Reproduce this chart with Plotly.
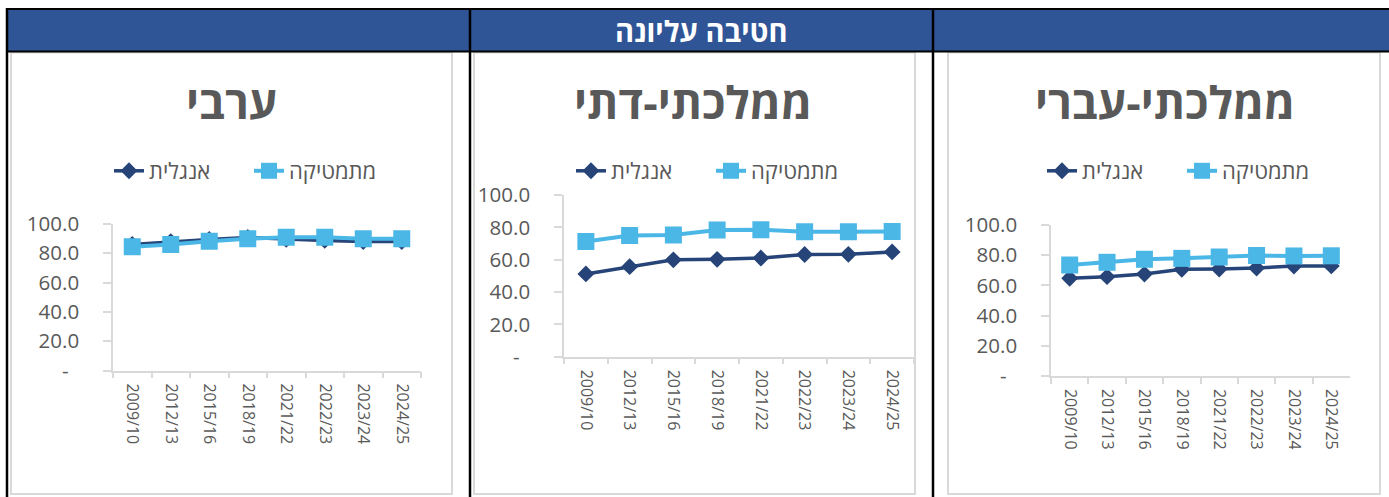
import plotly.graph_objects as go

W, H = 1389, 497

years = ["2009/10", "2012/13", "2015/16", "2018/19", "2021/22", "2022/23", "2023/24", "2024/25"]

arab_english = [86.0, 88.0, 89.5, 90.8, 89.5, 88.8, 88.0, 88.0]
arab_math = [84.5, 86.0, 88.2, 90.0, 90.9, 90.9, 90.0, 90.0]

dati_english = [51.2, 55.7, 59.9, 60.2, 61.0, 63.2, 63.3, 64.8]
dati_math = [71.2, 74.9, 75.3, 78.4, 78.5, 77.3, 77.3, 77.4]

ivri_english = [64.7, 65.8, 67.5, 70.7, 70.9, 71.5, 72.8, 72.9]
ivri_math = [73.5, 75.3, 77.3, 77.9, 78.8, 79.8, 79.5, 79.6]

panel_titles = ["ערבי", "ממלכתי-דתי", "ממלכתי-עברי"]
header_title = "חטיבה עליונה"
name_english = "אנגלית"
name_math = "מתמטיקה"

ytick_vals = [0, 20, 40, 60, 80, 100]
ytick_text = ["-\u00a0\u00a0", "20.0", "40.0", "60.0", "80.0", "100.0"]

FONT = "Open Sans, Liberation Sans, DejaVu Sans, sans-serif"
GRAY = "#595959"
AXIS = "#D9D9D9"
DARK = "#264478"
LIGHT = "#4BB7E6"


def px(x):
    return x / W


def py(y):
    return 1 - y / H


areas = [
    (113, 421, 224, 370.5),
    (564, 914, 195, 356.7),
    (1051, 1350, 225, 376),
]
data = [
    (arab_english, arab_math),
    (dati_english, dati_math),
    (ivri_english, ivri_math),
]
title_x = [231, 693, 1165]
legend_left = [109, 571, 1042]
boxes = [(11, 452), (474, 915), (948, 1380)]

fig = go.Figure()
layout = {}
for i, ((x0, x1, yt, yb), (eng, mat)) in enumerate(zip(areas, data)):
    n = "" if i == 0 else str(i + 1)
    xa, ya = "x" + n, "y" + n
    lg = "legend" + n
    fig.add_trace(go.Scatter(
        x=years, y=eng, name=name_english, mode="lines+markers",
        line=dict(color=DARK, width=3.5),
        marker=dict(symbol="diamond", size=13, color=DARK),
        xaxis=xa, yaxis=ya, legend=lg))
    fig.add_trace(go.Scatter(
        x=years, y=mat, name=name_math, mode="lines+markers",
        line=dict(color=LIGHT, width=4),
        marker=dict(symbol="square", size=17, color=LIGHT),
        xaxis=xa, yaxis=ya, legend=lg))
    layout["xaxis" + n] = dict(
        domain=[px(x0), px(x1)], anchor=ya, type="category",
        range=[-0.5, 7.5], tickson="boundaries", ticks="outside",
        ticklen=6, tickcolor=AXIS, tickwidth=1.5, showline=True,
        linecolor=AXIS, linewidth=1.5, showgrid=False, zeroline=False,
        tickangle=90, ticklabelstandoff=8,
        tickfont=dict(family=FONT, size=16, color=GRAY),
        fixedrange=True)
    layout["yaxis" + n] = dict(
        domain=[py(yb), py(yt)], anchor=xa, range=[0, 100],
        tickvals=ytick_vals, ticktext=ytick_text, ticks="outside",
        ticklen=8, tickcolor=AXIS, tickwidth=1.5, showline=True,
        linecolor=AXIS, linewidth=1.5, showgrid=False, zeroline=False,
        ticklabelstandoff=20,
        tickfont=dict(family=FONT, size=20.5, color=GRAY), fixedrange=True)
    layout[lg] = dict(
        orientation="h", x=px(legend_left[i]), y=py(171), xanchor="left",
        yanchor="middle", font=dict(family=FONT, size=22, color=GRAY),
        bgcolor="rgba(0,0,0,0)", traceorder="normal",
        entrywidth=95, entrywidthmode="pixels")

shapes = []
for (bx0, bx1) in boxes:
    shapes.append(dict(type="rect", xref="paper", yref="paper",
                       x0=px(bx0), x1=px(bx1), y0=py(494), y1=py(52.5),
                       line=dict(color=AXIS, width=2), fillcolor="white",
                       layer="below"))
shapes.append(dict(type="rect", xref="paper", yref="paper",
                   x0=px(7), x1=1.0, y0=py(51.5), y1=py(9),
                   line=dict(width=0), fillcolor="#2F5597", layer="above"))
shapes.append(dict(type="line", xref="paper", yref="paper",
                   x0=px(6), x1=1.0, y0=py(9), y1=py(9),
                   line=dict(color="black", width=2)))
shapes.append(dict(type="line", xref="paper", yref="paper",
                   x0=px(6), x1=1.0, y0=py(51.5), y1=py(51.5),
                   line=dict(color="black", width=2)))
for vx in [7, 470, 933]:
    shapes.append(dict(type="line", xref="paper", yref="paper",
                       x0=px(vx), x1=px(vx), y0=py(8), y1=0,
                       line=dict(color="black", width=2.5)))

annotations = [dict(text="<b>" + header_title + "</b>", x=px(701), y=py(31),
                    xref="paper", yref="paper", showarrow=False,
                    xanchor="center", yanchor="middle",
                    font=dict(family=FONT, size=29, color="white"))]
for t, tx in zip(panel_titles, title_x):
    annotations.append(dict(text="<b>" + t + "</b>", x=px(tx), y=py(101),
                            xref="paper", yref="paper", showarrow=False,
                            xanchor="center", yanchor="middle",
                            font=dict(family=FONT, size=45, color=GRAY)))

fig.update_layout(
    width=W, height=H,
    margin=dict(l=0, r=0, t=0, b=0, pad=0, autoexpand=False),
    paper_bgcolor="white", plot_bgcolor="rgba(0,0,0,0)",
    showlegend=True, shapes=shapes, annotations=annotations, **layout)

post = ("var gd=document.getElementById('{plot_id}');"
        "gd.style.position='fixed';gd.style.top='0px';gd.style.left='0px';"
        "document.documentElement.style.margin='0';"
        "document.body.style.margin='0';"
        "document.body.style.overflow='hidden';"
        "document.documentElement.style.overflow='hidden';")

fig.write_html("out.html", config={"displayModeBar": False, "responsive": False},
               post_script=post)
